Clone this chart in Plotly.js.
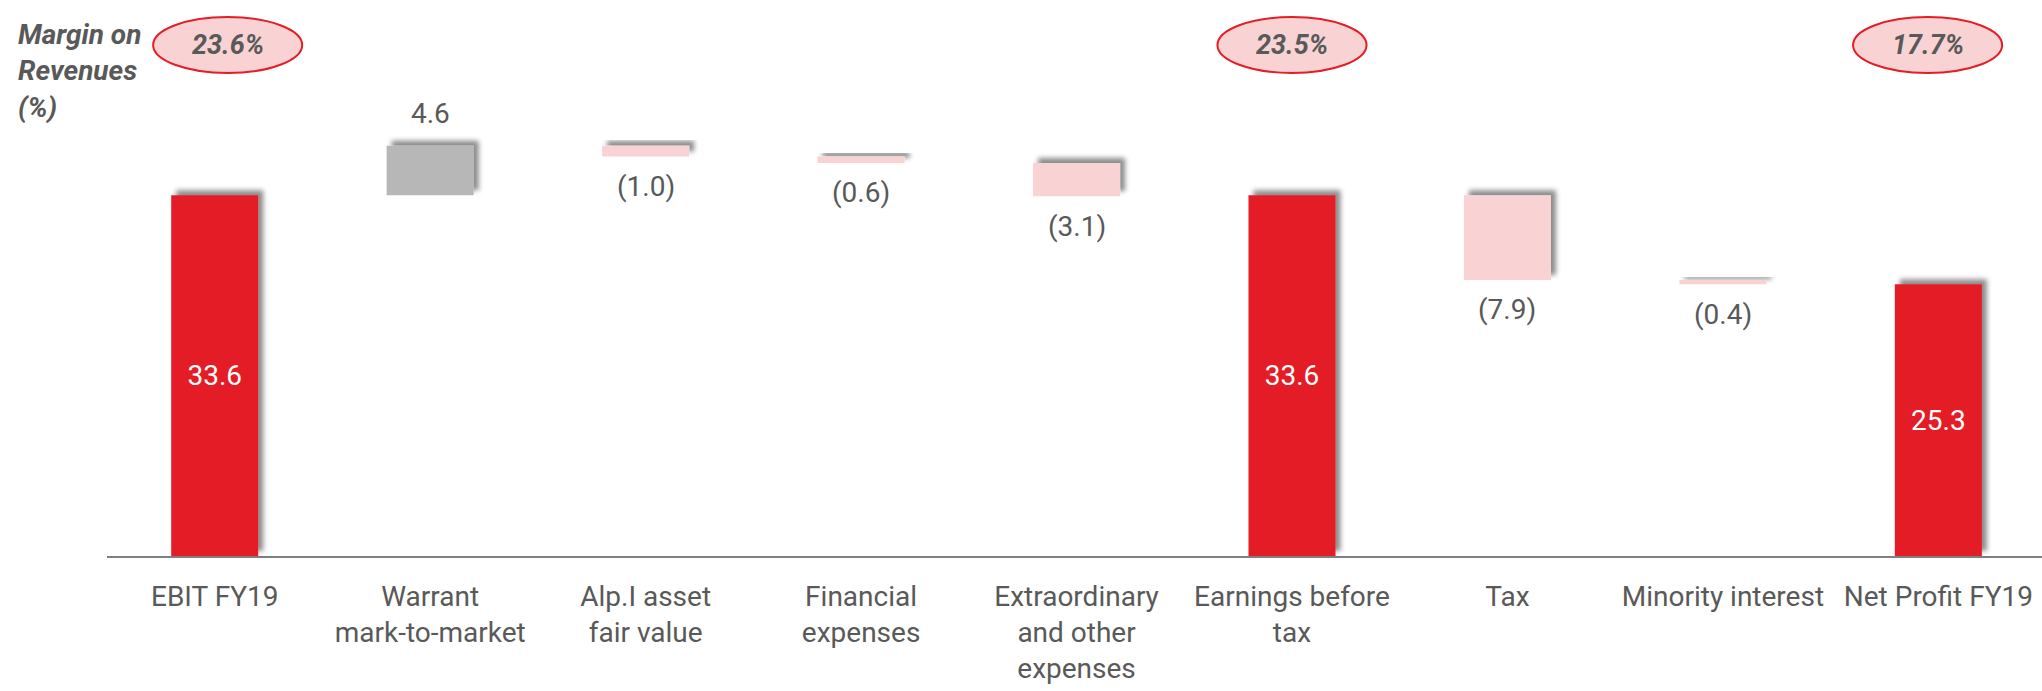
<!DOCTYPE html>
<html>
<head>
<meta charset="utf-8">
<script src="https://cdn.plot.ly/plotly-3.0.1.min.js"></script>
<style>
html,body{margin:0;padding:0;background:#fff;}
#chart{width:2042px;height:691px;}
</style>
</head>
<body>
<div id="chart"></div>
<script>
// ---- data ----
const categories = [
  'EBIT FY19',
  'Warrant<br>mark-to-market',
  'Alp.I asset<br>fair value',
  'Financial<br>expenses',
  'Extraordinary<br>and other<br>expenses',
  'Earnings before<br>tax',
  'Tax',
  'Minority interest',
  'Net Profit FY19'
];
const values = [33.6, 4.6, -1.0, -0.6, -3.1, 33.6, -7.9, -0.4, 25.3];
const measures = ['absolute','relative','relative','relative','relative','absolute','relative','relative','absolute'];
const marginIdx = [0, 5, 8];
const marginLabels = ['23.6%', '23.5%', '17.7%'];
const marginOffsets = [0.06, 0.0, -0.05];

// ---- styles ----
const RED = '#E41E26', PINK = '#F9D3D4', GRAY = '#B7B7B7', TXT = '#595959';
const FONT = 'Roboto, "Open Sans", sans-serif';

const fmt = v => v < 0 ? '(' + Math.abs(v).toFixed(1) + ')' : v.toFixed(1);
const insideText = values.map((v, i) => measures[i] === 'absolute' ? fmt(v) : '');

const trace = {
  type: 'waterfall',
  x: categories,
  y: values,
  measure: measures,
  text: insideText,
  textposition: 'inside',
  insidetextanchor: 'middle',
  constraintext: 'none',
  insidetextfont: {family: FONT, size: 28, color: '#ffffff'},
  increasing: {marker: {color: GRAY}},
  decreasing: {marker: {color: PINK}},
  totals: {marker: {color: RED}},
  connector: {visible: false},
  cliponaxis: false,
  hoverinfo: 'none'
};

const shapes = [], annotations = [];

// value labels outside the floating bars, anchored at each bar's end level
let level = 0;
values.forEach((v, i) => {
  if (measures[i] === 'absolute') { level = v; return; }
  level += v;
  annotations.push({
    xref: 'x', yref: 'y', x: categories[i], y: level,
    text: fmt(v), showarrow: false,
    font: {family: FONT, size: 28, color: TXT},
    xanchor: 'center', yanchor: 'middle',
    yshift: v < 0 ? -30 : 32
  });
});

const RX = 0.346;
marginIdx.forEach((ci, k) => {
  const cx = ci + marginOffsets[k];
  shapes.push({
    type: 'circle', xref: 'x', yref: 'paper',
    x0: cx - RX, x1: cx + RX, y0: 1 - 73/556, y1: 1 - 17/556,
    fillcolor: PINK, line: {color: RED, width: 2}, layer: 'above'
  });
  annotations.push({
    xref: 'x', yref: 'paper', x: cx, y: 1 - 45/556,
    text: '<b><i>' + marginLabels[k] + '</i></b>',
    showarrow: false, font: {family: FONT, size: 27, color: TXT},
    xanchor: 'center', yanchor: 'middle'
  });
});
annotations.push({
  xref: 'paper', yref: 'paper', x: -91/1935, y: 1, xanchor: 'left', yanchor: 'top',
  yshift: -16,
  align: 'left', showarrow: false,
  text: '<b><i>Margin on<br>Revenues<br>(%)</i></b>',
  font: {family: FONT, size: 28, color: TXT}
});

const layout = {
  width: 2042, height: 691,
  margin: {l: 107, r: 0, t: 0, b: 135},
  paper_bgcolor: '#ffffff', plot_bgcolor: '#ffffff',
  showlegend: false,
  waterfallgap: 0.596,
  font: {family: FONT, color: TXT},
  xaxis: {
    type: 'category', range: [-0.5, 8.481], fixedrange: true,
    showline: true, linecolor: '#7f7f7f', linewidth: 2,
    showgrid: false, zeroline: false, ticks: '', tickangle: 0,
    ticklabelstandoff: 14,
    tickfont: {family: FONT, size: 28, color: TXT},
    automargin: false
  },
  yaxis: {range: [0, 51.77], visible: false, fixedrange: true},
  shapes: shapes,
  annotations: annotations
};

Plotly.newPlot('chart', [trace], layout, {displayModeBar: false, staticPlot: true}).then(gd => {
  const svg = gd.querySelector('svg.main-svg');
  const ns = 'http://www.w3.org/2000/svg';
  let defs = svg.querySelector('defs');
  if (!defs) { defs = document.createElementNS(ns, 'defs'); svg.insertBefore(defs, svg.firstChild); }
  const f = document.createElementNS(ns, 'filter');
  f.setAttribute('id', 'barshadow');
  f.setAttribute('x', '-20%'); f.setAttribute('y', '-50%');
  f.setAttribute('width', '140%'); f.setAttribute('height', '200%');
  f.innerHTML = '<feDropShadow dx="5" dy="-5" stdDeviation="2.5" flood-color="#000" flood-opacity="0.45"/>';
  defs.appendChild(f);
  gd.querySelectorAll('.waterfalllayer .point path').forEach(p => p.setAttribute('filter', 'url(#barshadow)'));
});
</script>
</body>
</html>
